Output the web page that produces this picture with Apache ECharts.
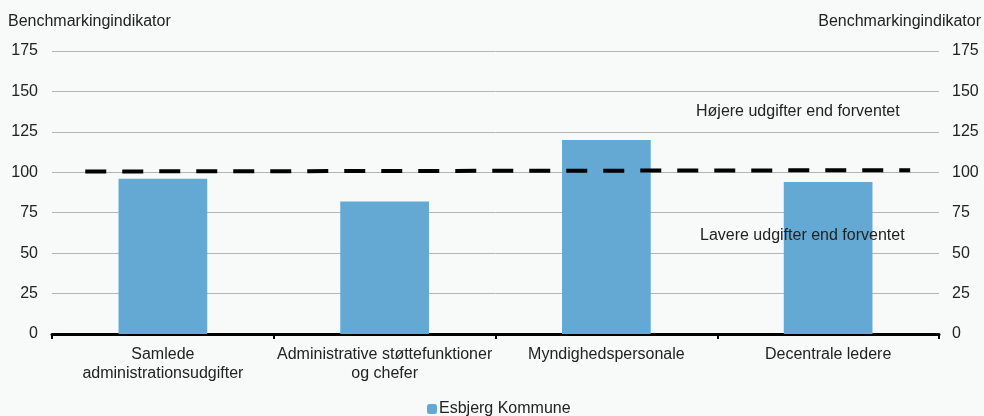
<!DOCTYPE html>
<html><head><meta charset="utf-8">
<script src="https://cdn.jsdelivr.net/npm/echarts@6/dist/echarts.min.js"></script>
<style>html,body{margin:0;padding:0;background:#f8f9f9}#c{width:984px;height:416px}</style>
</head><body><div id="c"></div>
<script>
const categories = ['Samlede\nadministrationsudgifter', 'Administrative støttefunktioner\nog chefer', 'Myndighedspersonale', 'Decentrale ledere'];
const esbjerg = [96, 82, 120, 94];
const benchmarkLine = [[0.15, 100.5], [3.87, 101.3]];
const yTicks = {min: 0, max: 175, interval: 25};
const axisTitle = 'Benchmarkingindikator';
const noteHigh = 'Højere udgifter end forventet';
const noteLow = 'Lavere udgifter end forventet';
const seriesName = 'Esbjerg Kommune';

const font = 'Liberation Sans, Arial, sans-serif';
const fs = 16;
const chart = echarts.init(document.getElementById('c'));
chart.setOption({
  backgroundColor: '#f8f9f9',
  animation: false,
  textStyle: {fontFamily: font},
  grid: {left: 52, right: 42, top: 51, bottom: 82, containLabel: false},
  legend: {
    top: 401, left: 427, padding: 0, itemWidth: 10, itemHeight: 10, itemGap: 4,
    data: [seriesName],
    textStyle: {fontFamily: font, fontSize: fs, color: '#222', padding: [0, 0, 0, -3]}
  },
  xAxis: [{
    type: 'category', data: categories,
    axisLine: {lineStyle: {color: '#000', width: 3}},
    axisTick: {show: true, length: 5, lineStyle: {color: '#000', width: 2}},
    axisLabel: {fontFamily: font, fontSize: fs, color: '#222', lineHeight: 19, margin: 11, interval: 0}
  }, {
    type: 'value', min: 0, max: 4, show: false
  }],
  yAxis: [{
    type: 'value', min: yTicks.min, max: yTicks.max, interval: yTicks.interval,
    name: axisTitle, nameLocation: 'end', nameGap: 21,
    nameTextStyle: {fontFamily: font, fontSize: fs, color: '#222', align: 'left', padding: [0, 0, 0, -44]},
    axisLine: {show: false}, axisTick: {show: false},
    axisLabel: {fontFamily: font, fontSize: fs, color: '#222', margin: 14},
    splitLine: {lineStyle: {color: '#b4b4b4', width: 1}}
  }, {
    type: 'value', min: yTicks.min, max: yTicks.max, interval: yTicks.interval, position: 'right',
    name: axisTitle, nameLocation: 'end', nameGap: 21,
    nameTextStyle: {fontFamily: font, fontSize: fs, color: '#222', align: 'right', padding: [0, -42, 0, 0]},
    axisLine: {show: false}, axisTick: {show: false},
    axisLabel: {fontFamily: font, fontSize: fs, color: '#222', margin: 13},
    splitLine: {show: false}
  }],
  graphic: [
    {type: 'text', left: 696, top: 104, z: 100, style: {text: noteHigh, font: fs + 'px ' + font, fill: '#222'}},
    {type: 'text', left: 700, top: 228, z: 100, style: {text: noteLow, font: fs + 'px ' + font, fill: '#222'}}
  ],
  series: [{
    name: seriesName, type: 'bar', data: esbjerg, barWidth: '40%',
    itemStyle: {color: '#63a9d4'}, xAxisIndex: 0, yAxisIndex: 0
  }, {
    name: 'bench', type: 'line', data: benchmarkLine, xAxisIndex: 1, yAxisIndex: 0,
    symbol: 'none', lineStyle: {color: '#000', width: 4, type: [21, 16]}, z: 5
  }]
});
</script></body></html>
